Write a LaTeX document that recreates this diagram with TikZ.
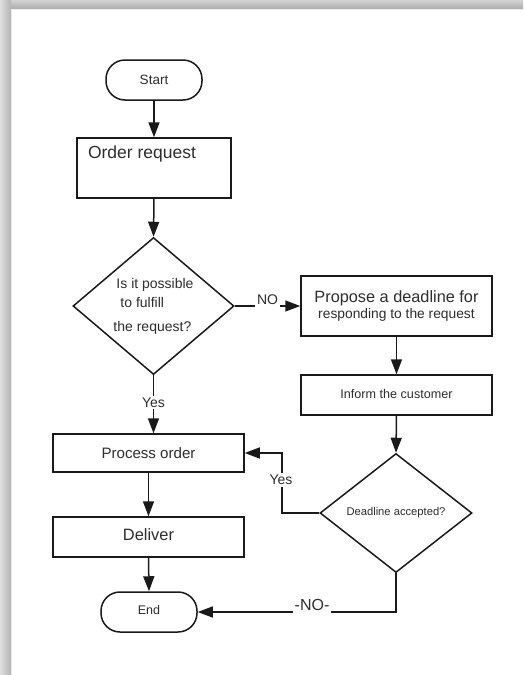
\documentclass[tikz,border=0pt]{standalone}
\usepackage{fontspec}
\setmainfont{Liberation Sans}
\usetikzlibrary{arrows.meta,shapes.geometric}
\definecolor{txt}{HTML}{2E2E2E}
\definecolor{ln}{HTML}{1A1A1A}
\tikzset{
  every node/.style={text=txt, inner sep=0pt},
  term/.style={draw=ln, line width=1.5pt, rectangle, rounded corners=19pt, minimum width=96pt, minimum height=40pt},
  procbox/.style={draw=ln, line width=1.5pt, rectangle},
  decis/.style={draw=ln, line width=1.5pt, diamond, inner sep=0pt},
  conn/.style={draw=ln, line width=1.5pt, -{Triangle[length=15pt,width=11pt]}},
  lab/.style={fill=white, inner sep=2pt, font=\fontsize{14}{16}\selectfont},
}
\begin{document}
\begin{tikzpicture}[x=1pt,y=-1pt]
\useasboundingbox (0,0) rectangle (523,675);
% frame with shadow
\fill[gray!35] (0,0) rectangle (523,675);
\shade[top color=gray!35, bottom color=gray!65] (0,0) rectangle (523,9);
\shade[left color=gray!25, right color=gray!60] (0,0) rectangle (11,675);
\fill[gray!15] (11,9) rectangle (523,11);
\fill[gray!15] (11,9) rectangle (13,675);
\fill[white] (12,10) rectangle (523,675);

% nodes
\node[term, font=\fontsize{13.5}{15}\selectfont] (start) at (154,80) {Start};
\node[procbox, minimum width=154pt, minimum height=60pt] (order) at (154,168) {};
\node[font=\fontsize{17.5}{20}\selectfont] (ordert) at (142,154) {Order request};
\node[decis, minimum width=161pt, minimum height=137pt, align=left, font=\fontsize{14}{17}\selectfont] (dec1) at (153.5,306)
  {\hspace*{3pt}Is it possible\\[2pt]\hspace*{7pt}to fulfill\\[7pt]the request?};
\node[procbox, minimum width=191pt, minimum height=60pt, align=center] (prop) at (396.5,306)
  {\fontsize{16.3}{19}\selectfont Propose a deadline for\\[1pt]\fontsize{13.8}{16}\selectfont responding to the request};
\node[procbox, minimum width=191pt, minimum height=40pt, font=\fontsize{12.6}{14}\selectfont] (inform) at (396.5,395)
  {\raisebox{3pt}{Inform the customer}};
\node[decis, minimum width=152pt, minimum height=119pt, font=\fontsize{11.2}{13}\selectfont] (dec2) at (396,513)
  {\raisebox{3pt}{Deadline accepted?}};
\node[procbox, minimum width=191pt, minimum height=38pt, font=\fontsize{15.1}{17}\selectfont] (proc) at (148.5,453)
  {Process order};
\node[procbox, minimum width=191pt, minimum height=40pt, font=\fontsize{16.4}{19}\selectfont] (deliv) at (148.5,537)
  {\raisebox{4pt}{Deliver}};
\node[term, font=\fontsize{12.5}{14}\selectfont] (endn) at (149,612) {\raisebox{4pt}{End}};

% connectors
\draw[conn] (start.south) -- (order.north);
\draw[conn] (order.south) -- (dec1.north);
\draw[conn] (dec1.east) -- (prop.west) node[lab, pos=0.5, yshift=6pt] (nolab) {NO};
\draw[conn] (prop.south) -- (inform.north);
\draw[conn] (inform.south) -- (dec2.north);
\draw[conn] (dec1.south) -- (dec1.south |- proc.north) node[lab, pos=0.47] (yes1) {Yes};
\draw[conn] (proc.south) -- (deliv.north);
\draw[conn] (deliv.south) -- (endn.north);
\coordinate (ycorner) at (282,513);
\draw[conn] (dec2.west) -- (ycorner) -- (ycorner |- proc.east) -- (proc.east);
\node[lab] (yes2) at (281,480) {Yes};
\coordinate (ncorner) at (396,612);
\draw[conn] (dec2.south) -- (ncorner) -- (endn.east);
\node[lab, font=\fontsize{16}{18}\selectfont] (nolab2) at (312,605) {-NO-};
\end{tikzpicture}
\end{document}
